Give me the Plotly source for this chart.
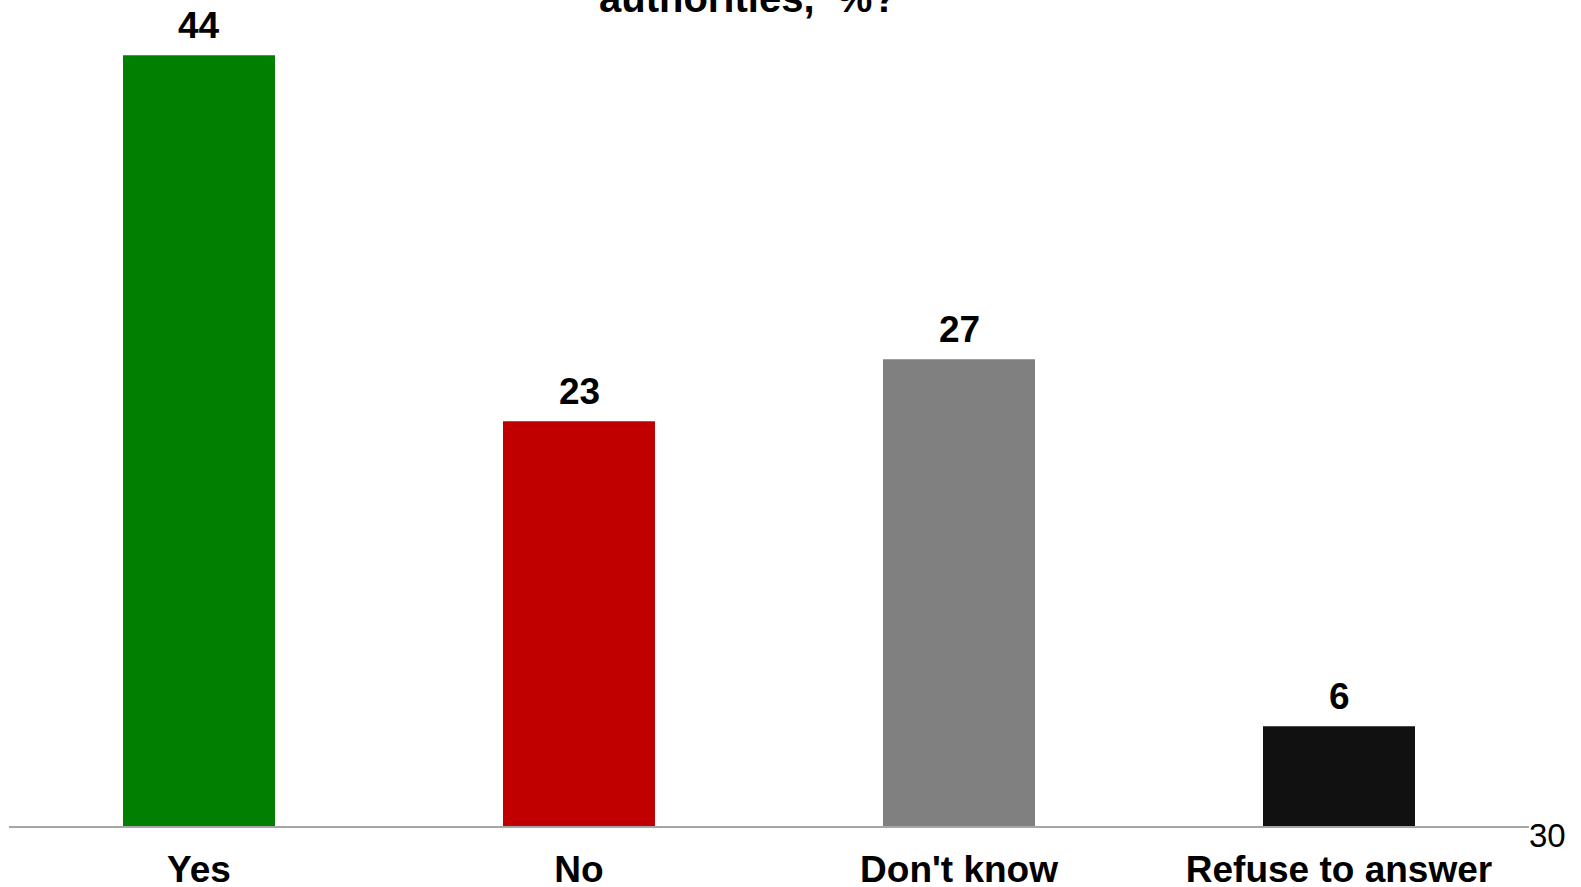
import plotly.graph_objects as go

categories = ["Yes", "No", "Don't know", "Refuse to answer"]
values = [44.0, 23.1, 26.65, 5.7]
labels = ["44", "23", "27", "6"]
colors = ["#007F00", "#C00000", "#808080", "#111111"]

FONT = "Arial, 'Liberation Sans', sans-serif"

fig = go.Figure()
fig.add_trace(go.Bar(
    x=categories, y=values, width=0.4,
    marker=dict(color=colors, line=dict(width=0)),
    hoverinfo="x+y",
))

annotations = [
    dict(text=lab, x=cat, y=val, xref="x", yref="y",
         xanchor="center", yanchor="bottom", yshift=7, showarrow=False,
         font=dict(family=FONT, size=37, color="#000000", weight="bold"))
    for cat, val, lab in zip(categories, values, labels)
]
annotations += [
    dict(text="authorities,\u00a0 %?", xref="paper", yref="paper",
         x=(748 - 9) / 1520, y=1.0, xanchor="center", yanchor="bottom",
         yshift=-22, showarrow=False,
         font=dict(family=FONT, size=40, color="#000000", weight="bold")),
    dict(text="30", xref="paper", yref="paper",
         x=1.0, y=0.0, xanchor="left", yanchor="middle", xshift=-2, yshift=-9,
         showarrow=False,
         font=dict(family=FONT, size=33, color="#000000")),
]

fig.update_layout(
    width=1581, height=887,
    margin=dict(l=9, r=52, t=0, b=61, autoexpand=False),
    paper_bgcolor="white", plot_bgcolor="white",
    showlegend=False,
    bargap=0.6,
    xaxis=dict(
        showline=True, linecolor="#A6A6A6", linewidth=2,
        showgrid=False, ticks="", zeroline=False, automargin=False,
        ticklabelstandoff=10,
        tickfont=dict(family=FONT, size=37, color="#000000", weight="bold"),
    ),
    yaxis=dict(range=[0, 47.15], visible=False, fixedrange=True, automargin=False),
    annotations=annotations,
)

fig.write_html("out.html", config={"displayModeBar": False},
               post_script="document.body.style.margin='0';")
